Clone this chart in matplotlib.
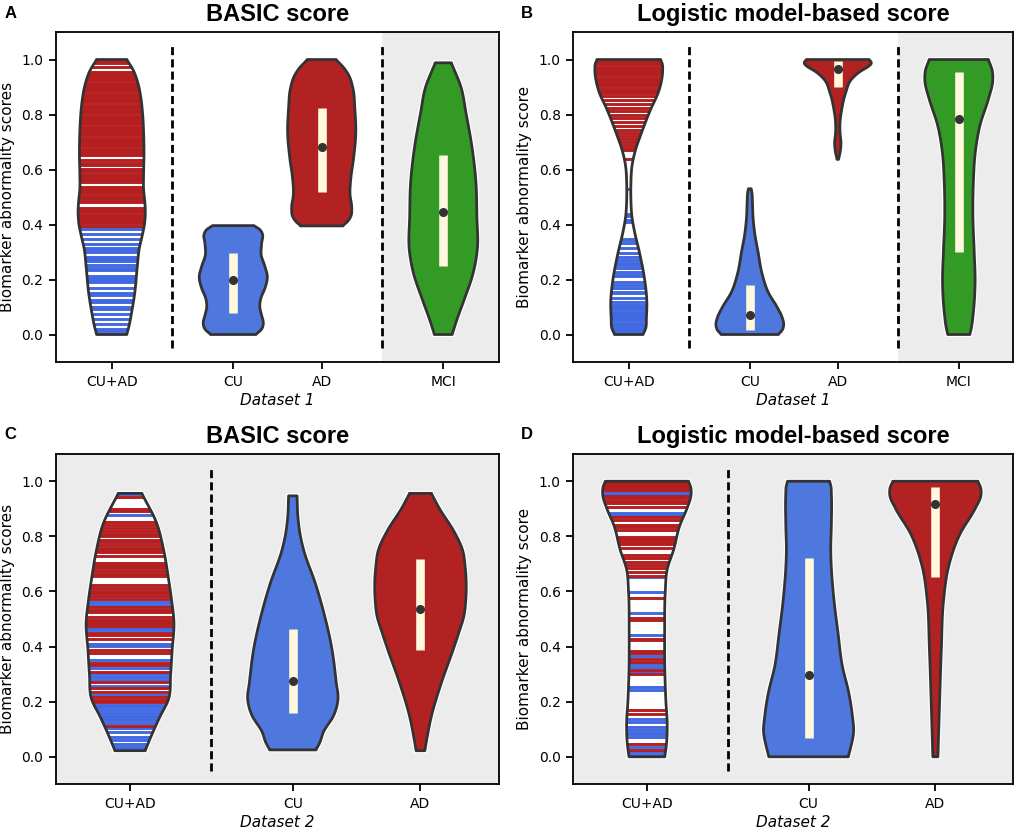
import numpy as np
import matplotlib
matplotlib.use('Agg')
import matplotlib.pyplot as plt

# colours
RED = '#B22222'
BLUE = '#4F78DF'
GREEN = '#339A26'
STRIPE_RED = '#B51F1F'
STRIPE_BLUE = '#4169E1'
EDGE = '#333333'
BOX = '#FFF8DC'
SHADE = '#ECECEC'

# ---- Dataset 1 ----
d1_labels = ['CU+AD', 'CU', 'AD', 'MCI']
d1_pos = [0, 1.375, 2.375, 3.75]

# violin outlines: (score, half width)
a_cuad_shape = [(0.0, 0.17), (0.03, 0.195), (0.08, 0.225), (0.15, 0.26), (0.25, 0.29), (0.31, 0.31),
                (0.36, 0.345), (0.40, 0.37), (0.44, 0.38), (0.48, 0.375), (0.53, 0.36), (0.58, 0.36),
                (0.66, 0.365), (0.74, 0.36), (0.80, 0.35), (0.86, 0.33), (0.91, 0.30), (0.96, 0.245), (1.0, 0.17)]
a_cu_shape = [(0.0, 0.25), (0.015, 0.31), (0.04, 0.34), (0.07, 0.32), (0.10, 0.30), (0.13, 0.31), (0.17, 0.36),
              (0.21, 0.385), (0.25, 0.355), (0.29, 0.315), (0.33, 0.32), (0.37, 0.325), (0.385, 0.29), (0.396, 0.225)]
a_ad_shape = [(0.395, 0.235), (0.41, 0.29), (0.43, 0.33), (0.46, 0.34), (0.51, 0.32), (0.57, 0.33), (0.64, 0.36),
              (0.73, 0.385), (0.82, 0.375), (0.90, 0.35), (0.94, 0.31), (0.97, 0.25), (1.0, 0.16)]
a_mci_shape = [(0.0, 0.10), (0.05, 0.15), (0.13, 0.24), (0.22, 0.335), (0.31, 0.385), (0.43, 0.38), (0.55, 0.37),
               (0.67, 0.33), (0.80, 0.26), (0.91, 0.19), (0.95, 0.14), (0.988, 0.09)]
# (q1, q3, median)
a_boxes = [(0.08, 0.297, 0.198), (0.517, 0.825, 0.682), (0.25, 0.652, 0.444)]
a_stripes_cu = [0.003, 0.011, 0.019, 0.037, 0.055, 0.073, 0.091, 0.099, 0.119, 0.127, 0.145, 0.152, 0.169,
                0.190, 0.198, 0.206, 0.213, 0.235, 0.243, 0.251, 0.269, 0.276, 0.283, 0.299, 0.306, 0.313,
                0.329, 0.346, 0.364, 0.382, 0.389]
a_stripes_ad = [0.396, 0.404, 0.412, 0.420, 0.428, 0.436, 0.444, 0.452, 0.460, 0.481, 0.489, 0.497, 0.505,
                0.513, 0.521, 0.529, 0.537, 0.553, 0.561, 0.569, 0.577, 0.585, 0.593, 0.601, 0.617, 0.625,
                0.633, 0.652, 0.660, 0.668, 0.676, 0.684, 0.692, 0.700, 0.708, 0.716, 0.724, 0.732, 0.740,
                0.748, 0.756, 0.764, 0.772, 0.780, 0.788, 0.796, 0.804, 0.812, 0.820, 0.828, 0.836, 0.844,
                0.852, 0.860, 0.868, 0.876, 0.884, 0.892, 0.900, 0.908, 0.916, 0.924, 0.932, 0.940, 0.948,
                0.956, 0.972, 0.988, 0.996]

b_cuad_shape = [(0.0, 0.16), (0.02, 0.19), (0.06, 0.20), (0.12, 0.205), (0.20, 0.18), (0.30, 0.12), (0.37, 0.068),
                (0.43, 0.035), (0.49, 0.024), (0.55, 0.024), (0.61, 0.035), (0.67, 0.075), (0.73, 0.14),
                (0.82, 0.25), (0.88, 0.335), (0.92, 0.37), (0.96, 0.385), (0.985, 0.38), (1.0, 0.36)]
b_cu_shape = [(0.0, 0.32), (0.012, 0.36), (0.035, 0.385), (0.06, 0.37), (0.10, 0.31), (0.15, 0.215), (0.22, 0.14),
              (0.30, 0.094), (0.37, 0.055), (0.43, 0.036), (0.48, 0.03), (0.52, 0.022), (0.53, 0.015)]
b_ad_shape = [(0.637, 0.008), (0.65, 0.018), (0.67, 0.03), (0.70, 0.036), (0.73, 0.026), (0.77, 0.025),
              (0.82, 0.045), (0.88, 0.09), (0.93, 0.16), (0.96, 0.27), (0.975, 0.35), (0.99, 0.385), (1.0, 0.35)]
b_mci_shape = [(0.0, 0.125), (0.02, 0.14), (0.08, 0.165), (0.19, 0.185), (0.30, 0.175), (0.43, 0.16), (0.55, 0.165),
               (0.67, 0.19), (0.76, 0.24), (0.86, 0.34), (0.92, 0.385), (0.96, 0.38), (1.0, 0.335)]
b_boxes = [(0.018, 0.18, 0.07), (0.90, 0.995, 0.967), (0.30, 0.953, 0.783)]
b_stripes_cu = [0.003, 0.011, 0.019, 0.027, 0.035, 0.043, 0.051, 0.059, 0.067, 0.075, 0.083, 0.091, 0.099,
                0.107, 0.119, 0.132, 0.150, 0.156, 0.168, 0.180, 0.192, 0.211, 0.217, 0.229, 0.241, 0.253,
                0.259, 0.271, 0.283, 0.295, 0.313, 0.331, 0.343, 0.349, 0.410, 0.418, 0.430, 0.440, 0.529]
b_stripes_ad = [0.637, 0.672, 0.680, 0.690, 0.700, 0.712, 0.722, 0.732, 0.745, 0.758, 0.772, 0.786, 0.799,
                0.812, 0.825, 0.839, 0.853, 0.866, 0.878, 0.886, 0.894, 0.902, 0.910, 0.918, 0.926, 0.934,
                0.942, 0.950, 0.958, 0.966, 0.974, 0.982, 0.990, 0.997]

# ---- Dataset 2 ----
d2_labels = ['CU+AD', 'CU', 'AD']
d2_pos = [0, 1.275, 2.275]

c_cuad_shape = [(0.022, 0.118), (0.08, 0.17), (0.147, 0.236), (0.207, 0.30), (0.30, 0.318), (0.389, 0.33),
                (0.486, 0.344), (0.57, 0.325), (0.65, 0.30), (0.753, 0.262), (0.846, 0.21), (0.956, 0.092)]
c_cu_shape = [(0.025, 0.18), (0.05, 0.21), (0.09, 0.24), (0.15, 0.32), (0.21, 0.354), (0.27, 0.34), (0.39, 0.307),
              (0.51, 0.25), (0.63, 0.176), (0.75, 0.085), (0.80, 0.06), (0.87, 0.04), (0.947, 0.033)]
c_ad_shape = [(0.022, 0.034), (0.06, 0.048), (0.15, 0.087), (0.27, 0.165), (0.39, 0.257), (0.45, 0.30),
              (0.51, 0.34), (0.57, 0.355), (0.69, 0.35), (0.75, 0.33), (0.82, 0.26), (0.90, 0.15), (0.956, 0.085)]
c_boxes = [(0.159, 0.464, 0.276), (0.387, 0.719, 0.535)]
c_stripes_cu = [0.029, 0.036, 0.048, 0.061, 0.073, 0.091, 0.103, 0.124, 0.132, 0.141, 0.149, 0.158, 0.171,
                0.179, 0.188, 0.224, 0.258, 0.279, 0.291, 0.299, 0.321, 0.352, 0.402, 0.410, 0.459, 0.467,
                0.552, 0.560, 0.879, 0.952]
c_stripes_ad = [0.112, 0.198, 0.206, 0.216, 0.236, 0.248, 0.270, 0.309, 0.333, 0.342, 0.378, 0.388, 0.429,
                0.442, 0.451, 0.475, 0.482, 0.490, 0.497, 0.509, 0.527, 0.533, 0.545, 0.573, 0.582, 0.594,
                0.602, 0.612, 0.624, 0.655, 0.664, 0.676, 0.684, 0.691, 0.698, 0.705, 0.727, 0.742, 0.749,
                0.758, 0.770, 0.781, 0.788, 0.800, 0.808, 0.818, 0.830, 0.840, 0.851, 0.891, 0.899, 0.943]

d_cuad_shape = [(0.0, 0.141), (0.05, 0.155), (0.12, 0.16), (0.20, 0.15), (0.30, 0.142), (0.45, 0.14), (0.60, 0.145),
                (0.68, 0.16), (0.75, 0.21), (0.84, 0.26), (0.90, 0.315), (0.95, 0.348), (0.98, 0.345), (1.0, 0.327)]
d_cu_shape = [(0.0, 0.313), (0.03, 0.33), (0.09, 0.355), (0.15, 0.345), (0.23, 0.318), (0.33, 0.266), (0.45, 0.232),
              (0.57, 0.20), (0.75, 0.175), (0.85, 0.18), (0.95, 0.18), (0.985, 0.175), (1.0, 0.165)]
d_ad_shape = [(0.0, 0.02), (0.09, 0.026), (0.21, 0.034), (0.39, 0.047), (0.57, 0.065), (0.69, 0.104), (0.81, 0.196),
              (0.90, 0.313), (0.95, 0.36), (0.98, 0.355), (1.0, 0.334)]
d_boxes = [(0.068, 0.722, 0.296), (0.653, 0.98, 0.916)]
d_stripes_cu = [0.008, 0.017, 0.035, 0.072, 0.081, 0.088, 0.096, 0.108, 0.126, 0.138, 0.241, 0.253, 0.308,
                0.326, 0.338, 0.365, 0.441, 0.522, 0.599, 0.653, 0.878, 0.884, 0.954, 0.962]
d_stripes_ad = [0.025, 0.047, 0.156, 0.168, 0.302, 0.314, 0.344, 0.356, 0.375, 0.384, 0.422, 0.429, 0.496,
                0.505, 0.577, 0.656, 0.672, 0.684, 0.696, 0.708, 0.720, 0.732, 0.756, 0.772, 0.781, 0.787,
                0.793, 0.799, 0.823, 0.833, 0.841, 0.859, 0.872, 0.908, 0.921, 0.930, 0.938, 0.947, 0.969,
                0.976, 0.983, 0.990, 0.997]


def outline(shape):
    # smooth cubic hermite curve through the read-off points
    ys = np.array([p[0] for p in shape])
    ws = np.array([p[1] for p in shape])
    m = np.gradient(ws, ys)
    yy = np.append(np.arange(ys[0], ys[-1], 0.002), ys[-1])
    idx = np.clip(np.searchsorted(ys, yy, side='right') - 1, 0, len(ys) - 2)
    h = ys[idx + 1] - ys[idx]
    t = (yy - ys[idx]) / h
    ww = ((2 * t**3 - 3 * t**2 + 1) * ws[idx] + (t**3 - 2 * t**2 + t) * h * m[idx]
          + (-2 * t**3 + 3 * t**2) * ws[idx + 1] + (t**3 - t**2) * h * m[idx + 1])
    k = 3
    padded = np.pad(ww, k, mode='edge')
    ww = np.convolve(padded, np.ones(2 * k + 1) / (2 * k + 1), mode='valid')
    return yy, np.clip(ww, 0.004, None)


def violin(ax, x, shape, color, stripes=None):
    yy, ww = outline(shape)
    xs = np.concatenate([x + ww, (x - ww)[::-1]])
    ys = np.concatenate([yy, yy[::-1]])
    ax.fill(xs, ys, facecolor='none', edgecolor='white', lw=3.6, zorder=2.9)
    poly = ax.fill(xs, ys, facecolor=color, edgecolor='none', zorder=3)[0]
    if stripes is not None:
        for vals, c in stripes:
            lc = ax.hlines(vals, x - 0.6, x + 0.6, colors=c, lw=2.1, zorder=3.5)
            lc.set_clip_path(poly)
    ax.fill(xs, ys, facecolor='none', edgecolor=EDGE, lw=2.0, joinstyle='round', zorder=4)


def panel(ax, pos, labels, shapes, colors, boxes, stripes_cu, stripes_ad, xlim, title, ylabel, xlabel, shade_all):
    if shade_all:
        ax.set_facecolor(SHADE)
    else:
        ax.axvspan((pos[2] + pos[3]) / 2, xlim[1], color=SHADE, lw=0, zorder=0)
    violin(ax, pos[0], shapes[0], 'white', [(stripes_cu, STRIPE_BLUE), (stripes_ad, STRIPE_RED)])
    for i in range(1, len(pos)):
        violin(ax, pos[i], shapes[i], colors[i])
        q1, q3, med = boxes[i - 1]
        ax.plot([pos[i], pos[i]], [q1, q3], color=BOX, lw=6.2, solid_capstyle='butt', zorder=5)
        ax.plot(pos[i], med, 'o', ms=5.5, color=EDGE, zorder=6)
    # dashed separators
    seps = [(pos[0] + pos[1]) / 2]
    if len(pos) > 3:
        seps.append((pos[2] + pos[3]) / 2)
    ax.vlines(seps, -0.05, 1.05, colors='black', lw=2.0, linestyles=(0, (2.9, 1.5)), zorder=2)
    ax.set_xlim(xlim)
    ax.set_ylim(-0.1, 1.1)
    ax.set_xticks(pos)
    ax.set_xticklabels(labels)
    ax.set_yticks([0, 0.2, 0.4, 0.6, 0.8, 1.0])
    ax.set_yticklabels(['0.0', '0.2', '0.4', '0.6', '0.8', '1.0'])
    ax.tick_params(direction='out', length=5, width=1.3, labelsize=10, pad=4)
    for s in ax.spines.values():
        s.set_linewidth(1.3)
        s.set_color('black')
    ax.set_title(title, fontsize=17, fontweight='bold', family='Liberation Sans', pad=8)
    ax.set_ylabel(ylabel, fontsize=11, labelpad=5)
    ax.set_xlabel(xlabel, fontsize=11, style='italic', labelpad=3)


fig = plt.figure(figsize=(10.2, 8.32), dpi=100)
ax_a = fig.add_axes([0.0549, 0.5649, 0.4343, 0.3966])
ax_b = fig.add_axes([0.5621, 0.5649, 0.4314, 0.3966])
ax_c = fig.add_axes([0.0549, 0.0573, 0.4343, 0.3974])
ax_d = fig.add_axes([0.5621, 0.0573, 0.4314, 0.3974])

d1_colors = [None, BLUE, RED, GREEN]
d2_colors = [None, BLUE, RED]

panel(ax_a, d1_pos, d1_labels, [a_cuad_shape, a_cu_shape, a_ad_shape, a_mci_shape], d1_colors, a_boxes,
      a_stripes_cu, a_stripes_ad, (-0.63, 4.38), 'BASIC score', 'Biomarker abnormality scores', 'Dataset 1', False)
panel(ax_b, d1_pos, d1_labels, [b_cuad_shape, b_cu_shape, b_ad_shape, b_mci_shape], d1_colors, b_boxes,
      b_stripes_cu, b_stripes_ad, (-0.63, 4.37), 'Logistic model-based score', 'Biomarker abnormality score',
      'Dataset 1', False)
panel(ax_c, d2_pos, d2_labels, [c_cuad_shape, c_cu_shape, c_ad_shape], d2_colors, c_boxes,
      c_stripes_cu, c_stripes_ad, (-0.58, 2.89), 'BASIC score', 'Biomarker abnormality scores', 'Dataset 2', True)
panel(ax_d, d2_pos, d2_labels, [d_cuad_shape, d_cu_shape, d_ad_shape], d2_colors, d_boxes,
      d_stripes_cu, d_stripes_ad, (-0.58, 2.89), 'Logistic model-based score', 'Biomarker abnormality score',
      'Dataset 2', True)

# panel letters
for x, y, letter in [(0.004, 0.984, 'A'), (0.511, 0.984, 'B'), (0.004, 0.478, 'C'), (0.511, 0.478, 'D')]:
    fig.text(x, y, letter, fontsize=12, fontweight='bold', family='Liberation Sans', va='center', ha='left')

fig.savefig('out.png', dpi=100)
